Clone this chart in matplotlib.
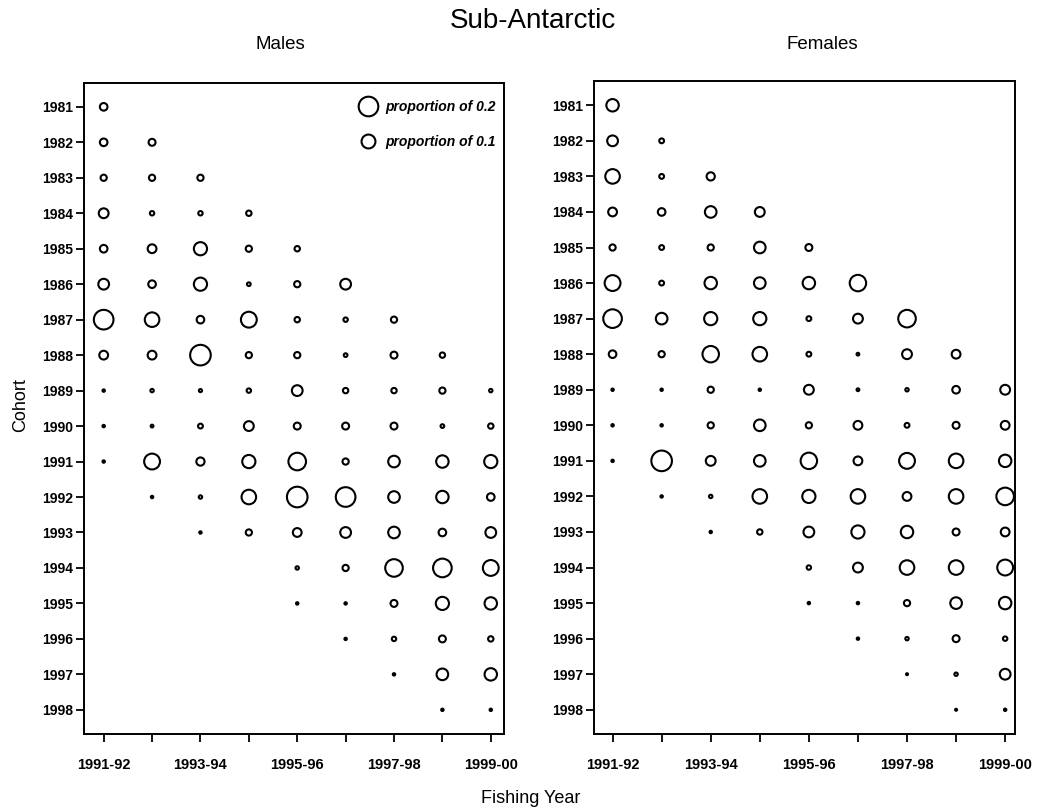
import numpy as np
import matplotlib
matplotlib.use('Agg')
import matplotlib.pyplot as plt
from matplotlib.lines import Line2D

plt.rcParams['font.family'] = ['Liberation Sans', 'DejaVu Sans']

years = ['1991-92', '1992-93', '1993-94', '1994-95', '1995-96',
         '1996-97', '1997-98', '1998-99', '1999-00']
cohorts = list(range(1981, 1999))

# proportion at age, rows = cohort 1981..1998, cols = fishing year; nan = none
n = np.nan
males = [
    [0.03, n, n, n, n, n, n, n, n],
    [0.03, 0.025, n, n, n, n, n, n, n],
    [0.02, 0.02, 0.02, n, n, n, n, n, n],
    [0.05, 0.01, 0.01, 0.015, n, n, n, n, n],
    [0.03, 0.04, 0.09, 0.02, 0.015, n, n, n, n],
    [0.06, 0.03, 0.09, 0.007, 0.02, 0.06, n, n, n],
    [0.2, 0.11, 0.03, 0.13, 0.015, 0.01, 0.02, n, n],
    [0.04, 0.04, 0.22, 0.02, 0.02, 0.007, 0.025, 0.015, n],
    [0.003, 0.006, 0.005, 0.01, 0.06, 0.015, 0.015, 0.02, 0.006],
    [0.003, 0.004, 0.012, 0.05, 0.025, 0.025, 0.025, 0.007, 0.015],
    [0.003, 0.13, 0.035, 0.09, 0.16, 0.02, 0.07, 0.08, 0.09],
    [n, 0.003, 0.006, 0.11, 0.22, 0.2, 0.07, 0.08, 0.03],
    [n, n, 0.003, 0.02, 0.04, 0.06, 0.07, 0.03, 0.06],
    [n, n, n, n, 0.006, 0.02, 0.16, 0.18, 0.13],
    [n, n, n, n, 0.003, 0.003, 0.025, 0.09, 0.08],
    [n, n, n, n, n, 0.003, 0.01, 0.025, 0.015],
    [n, n, n, n, n, n, 0.003, 0.07, 0.08],
    [n, n, n, n, n, n, n, 0.003, 0.003],
]
females = [
    [0.08, n, n, n, n, n, n, n, n],
    [0.06, 0.012, n, n, n, n, n, n, n],
    [0.11, 0.012, 0.035, n, n, n, n, n, n],
    [0.04, 0.03, 0.07, 0.05, n, n, n, n, n],
    [0.02, 0.012, 0.02, 0.07, 0.025, n, n, n, n],
    [0.13, 0.012, 0.08, 0.07, 0.08, 0.14, n, n, n],
    [0.18, 0.07, 0.09, 0.09, 0.012, 0.05, 0.16, n, n],
    [0.03, 0.02, 0.14, 0.11, 0.012, 0.004, 0.05, 0.04, n],
    [0.003, 0.003, 0.02, 0.003, 0.05, 0.004, 0.006, 0.03, 0.05],
    [0.003, 0.003, 0.02, 0.07, 0.02, 0.04, 0.012, 0.025, 0.04],
    [0.003, 0.22, 0.05, 0.07, 0.14, 0.04, 0.13, 0.11, 0.08],
    [n, 0.003, 0.006, 0.11, 0.09, 0.11, 0.04, 0.11, 0.16],
    [n, n, 0.003, 0.015, 0.06, 0.09, 0.08, 0.025, 0.04],
    [n, n, n, n, 0.01, 0.05, 0.11, 0.11, 0.13],
    [n, n, n, n, 0.003, 0.003, 0.02, 0.07, 0.08],
    [n, n, n, n, n, 0.003, 0.006, 0.025, 0.01],
    [n, n, n, n, n, n, 0.002, 0.006, 0.06],
    [n, n, n, n, n, n, n, 0.002, 0.003],
]

scale = 1000  # marker area (pt^2) per unit proportion

fig = plt.figure(figsize=(10.41, 8.11), dpi=100)
ax1 = fig.add_axes([0.081, 0.095, 0.403, 0.803])
ax2 = fig.add_axes([0.571, 0.095, 0.404, 0.805])


def bubbles(ax, data, xlim):
    d = np.array(data, dtype=float)
    xx, yy = np.meshgrid(np.arange(len(years)), cohorts)
    ok = ~np.isnan(d)
    ax.scatter(xx[ok], yy[ok], s=d[ok] * scale, facecolors='none',
               edgecolors='black', linewidths=1.5)
    ax.set_xlim(*xlim)
    ax.set_ylim(1998.68, 1980.32)
    ax.set_yticks(cohorts)
    ax.set_yticklabels([str(c) for c in cohorts], fontsize=10, fontweight='bold')
    ax.set_xticks(range(len(years)))
    ax.set_xticklabels([y if i % 2 == 0 else '' for i, y in enumerate(years)],
                       fontsize=10.5, fontweight='bold')
    ax.tick_params(direction='out', length=6, width=1.3)
    ax.tick_params(axis='x', pad=11)
    ax.tick_params(axis='y', pad=2)
    for sp in ax.spines.values():
        sp.set_linewidth(1.4)


bubbles(ax1, males, (-0.4, 8.27))
bubbles(ax2, females, (-0.37, 8.2))

handles = [Line2D([], [], marker='o', ls='none', mfc='none', mec='black', mew=1.5,
                  markersize=np.sqrt(0.2 * scale)),
           Line2D([], [], marker='o', ls='none', mfc='none', mec='black', mew=1.5,
                  markersize=np.sqrt(0.1 * scale))]
ax1.legend(handles, ['proportion of 0.2', 'proportion of 0.1'], loc='upper right',
           bbox_to_anchor=(1.0, 0.986), frameon=False,
           prop={'size': 10, 'style': 'italic', 'weight': 'bold'},
           handletextpad=0.5, labelspacing=1.5, borderaxespad=0.2, handlelength=1.5)

fig.text(0.512, 0.974, 'Sub-Antarctic', ha='center', va='center', fontsize=20)
fig.text(0.269, 0.945, 'Males', ha='center', va='center', fontsize=13.5)
fig.text(0.79, 0.945, 'Females', ha='center', va='center', fontsize=13.5)
fig.text(0.02, 0.5, 'Cohort', ha='center', va='center', rotation=90, fontsize=13)
fig.text(0.51, 0.015, 'Fishing Year', ha='center', va='center', fontsize=13)

fig.savefig('out.png', dpi=100)
